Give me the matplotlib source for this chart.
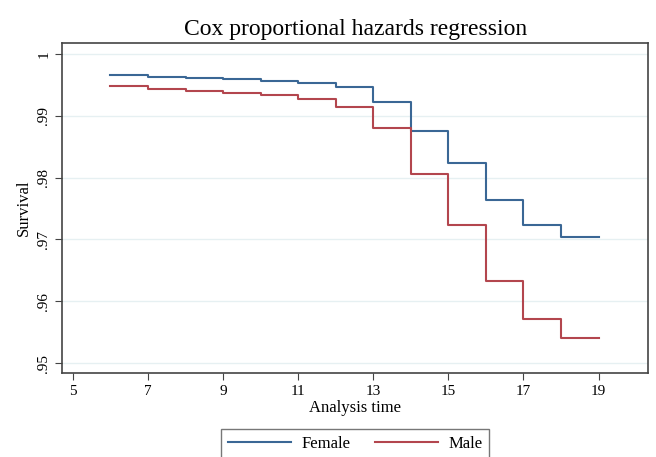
import matplotlib
matplotlib.use("Agg")
import matplotlib.pyplot as plt
import numpy as np

# data
times = [6, 7, 8, 9, 10, 11, 12, 13, 14, 15, 16, 17, 18, 19]
female = [0.9966, 0.9963, 0.9961, 0.9959, 0.9957, 0.9954, 0.9946, 0.9923,
          0.9876, 0.9823, 0.9764, 0.9724, 0.9704, 0.9704]
male = [0.9948, 0.9943, 0.9940, 0.9937, 0.9933, 0.9928, 0.9915, 0.9880,
        0.9806, 0.9723, 0.9632, 0.9571, 0.9540, 0.9540]
xticks = [5, 7, 9, 11, 13, 15, 17, 19]
yticks = [0.95, 0.96, 0.97, 0.98, 0.99, 1.0]
ytick_labels = ['.95', '.96', '.97', '.98', '.99', '1']

plt.rcParams['font.family'] = ['Liberation Serif', 'DejaVu Serif']

fig = plt.figure(figsize=(6.56, 4.57), dpi=100)
ax = fig.add_axes([0.0945, 0.184, 0.894, 0.722])

ax.plot(times, female, drawstyle='steps-post', color='#3a6795', lw=1.5, label='Female')
ax.plot(times, male, drawstyle='steps-post', color='#b3464e', lw=1.5, label='Male')

ax.set_xlim(4.71, 20.33)
ax.set_ylim(0.9484, 1.0018)
ax.set_xticks(xticks)
ax.set_yticks(yticks)
ax.set_yticklabels(ytick_labels, rotation=90, va='center')
ax.tick_params(labelsize=11, direction='out', length=5, color='#444444')
ax.grid(axis='y', color='#e6f0f2', lw=1)
ax.set_axisbelow(True)
for s in ax.spines.values():
    s.set_color('#444444')
    s.set_linewidth(1.2)

ax.set_title('Cox proportional hazards regression', fontsize=17, pad=6)
ax.set_xlabel('Analysis time', fontsize=12, labelpad=2)
ax.set_ylabel('Survival', fontsize=12, labelpad=4)

leg = ax.legend(loc='upper center', bbox_to_anchor=(0.5, -0.145), ncol=2,
                fontsize=12, frameon=True, fancybox=False, handlelength=3.8,
                handletextpad=0.6, columnspacing=1.5, borderpad=0.4)
leg.get_frame().set_edgecolor('#555555')
leg.get_frame().set_linewidth(1.0)

fig.savefig('out.png', dpi=100, facecolor='white')
